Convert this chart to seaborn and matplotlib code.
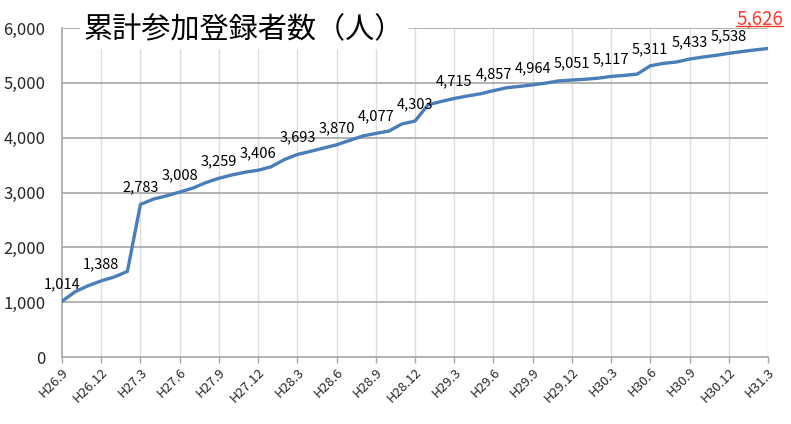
import matplotlib
matplotlib.use("Agg")
import matplotlib.pyplot as plt
import seaborn as sns
import pandas as pd
import numpy as np

title = "累計参加登録者数（人）"

tick_labels = ["H26.9", "H26.12", "H27.3", "H27.6", "H27.9", "H27.12", "H28.3",
               "H28.6", "H28.9", "H28.12", "H29.3", "H29.6", "H29.9", "H29.12",
               "H30.3", "H30.6", "H30.9", "H30.12", "H31.3"]

# monthly cumulative registrations, H26.9 .. H31.3 (55 months)
values = [1014, 1190, 1300, 1388, 1460, 1560, 2783, 2880, 2940, 3008,
          3080, 3180, 3259, 3320, 3370, 3406, 3470, 3600, 3693, 3750,
          3810, 3870, 3950, 4030, 4077, 4120, 4250, 4303, 4600, 4660,
          4715, 4760, 4800, 4857, 4910, 4935, 4964, 4995, 5035, 5051,
          5065, 5085, 5117, 5135, 5160, 5311, 5355, 5380, 5433, 5470,
          5500, 5538, 5570, 5600, 5626]

label_step = 3

sns.set_theme(style="white")
plt.rcParams['font.family'] = ['Noto Sans CJK JP', 'DejaVu Sans']

df = pd.DataFrame({"month": np.arange(len(values)), "value": values})

fig = plt.figure(figsize=(7.91, 4.24), dpi=100)
ax = fig.add_axes([62/791, 1-357/424, (768-62)/791, (357-28)/424])

sns.lineplot(data=df, x="month", y="value", ax=ax, color="#4a7ebb",
             linewidth=2.4, zorder=3)

ax.set_xlim(0, len(values) - 1)
ax.set_ylim(0, 6000)
ax.set_yticks(range(0, 6001, 1000))
ax.set_yticklabels([f"{v:,}" for v in range(0, 6001, 1000)], fontsize=12)
tick_pos = list(range(0, len(values), label_step))
ax.set_xticks(tick_pos)
ax.set_xticklabels(tick_labels, rotation=45, ha="right", rotation_mode="anchor",
                   fontsize=9.5)
ax.set_xlabel("")
ax.set_ylabel("")

ax.grid(False)
for y in range(1000, 6001, 1000):
    ax.axhline(y, color="#a6a6a6", linewidth=1.2, zorder=1)
for x in tick_pos[1:]:
    ax.axvline(x, color="#dcdcdc", linewidth=1.0, zorder=0)

for s in ["top", "right"]:
    ax.spines[s].set_visible(False)
for s in ["left", "bottom"]:
    ax.spines[s].set_color("#a6a6a6")
    ax.spines[s].set_linewidth(1.2)
ax.tick_params(axis="x", which="both", bottom=True, length=4, color="#a6a6a6",
               width=1, pad=2)
ax.tick_params(axis="y", left=False, pad=6)

last = len(values) - 1
for i in tick_pos:
    v = values[i]
    if i == last:
        ax.annotate(f"{v:,}", (i, v), xytext=(-6, 14), textcoords="offset points",
                    ha="center", va="bottom", fontsize=13.5, color="#ff3b2f")
    else:
        ax.annotate(f"{v:,}", (i, v), xytext=(0, 7), textcoords="offset points",
                    ha="center", va="bottom", fontsize=10.5, color="black")

# underline for the final label
fig.canvas.draw()
txt = ax.texts[-1]
bb = txt.get_window_extent(renderer=fig.canvas.get_renderer())
inv = fig.transFigure.inverted()
(x0, y0), (x1, y1) = inv.transform([(bb.x0, bb.y0 + 3), (bb.x1, bb.y0 + 3)])
fig.add_artist(plt.Line2D([x0, x1], [y0, y1], color="#ff3b2f", linewidth=1.0,
                          transform=fig.transFigure))

fig.text(84/791, 1-30/424, title, fontsize=21, ha="left", va="center",
         color="black",
         bbox=dict(boxstyle="square,pad=0.15", facecolor="white",
                   edgecolor="none"))

fig.savefig("out.png", dpi=100)
